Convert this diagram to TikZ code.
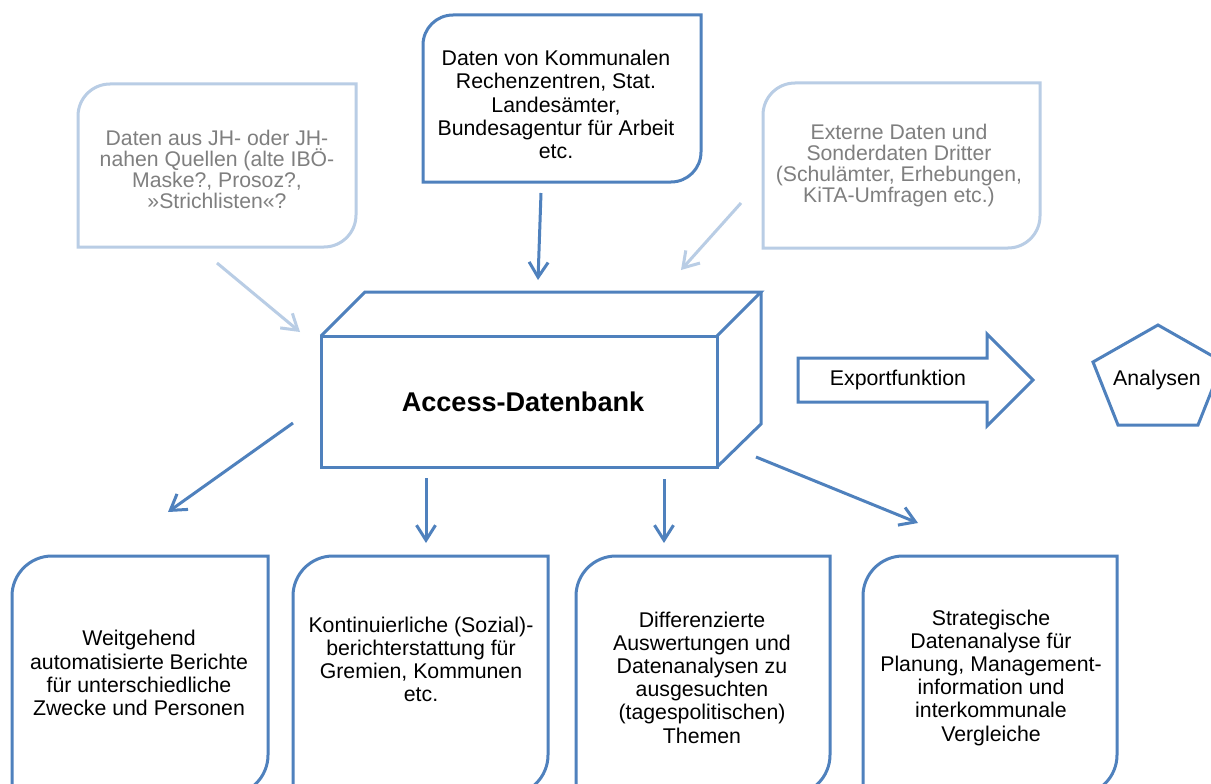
\documentclass[tikz,border=0pt]{standalone}
\usepackage{fontspec}
\setmainfont{Liberation Sans}
\usetikzlibrary{arrows.meta,calc}
\definecolor{mainblue}{RGB}{79,129,189}
\definecolor{lightblue}{RGB}{185,205,229}
\definecolor{greytext}{RGB}{127,127,127}
\newcommand{\dframe}[3]{%
  \draw[#1] ([yshift={-#3}]#2.north west) .. controls ([yshift={-0.448*#3}]#2.north west) and ([xshift={0.448*#3}]#2.north west) .. ([xshift={#3}]#2.north west)
    -- (#2.north east) -- ([yshift={#3}]#2.south east) .. controls ([yshift={0.448*#3}]#2.south east) and ([xshift={-0.448*#3}]#2.south east) .. ([xshift={-#3}]#2.south east)
    -- (#2.south west) -- cycle;}
\begin{document}
\begin{tikzpicture}[x=1pt,y=-1pt,
  frame/.style={draw=none, inner sep=0pt, outer sep=0pt},
  dark/.style={draw=mainblue, line width=3pt},
  light/.style={draw=lightblue, line width=3pt},
  txt/.style={align=center, inner sep=0pt, font=\fontsize{21.3pt}{23.2pt}\selectfont},
  ltxt/.style={align=center, inner sep=0pt, text=greytext, font=\fontsize{21.2pt}{21pt}\selectfont},
  darr/.style={draw=mainblue, line width=3pt, -{Straight Barb[length=15pt,width=19pt]}},
  larr/.style={draw=lightblue, line width=3pt, -{Straight Barb[length=15pt,width=19pt]}}]
\useasboundingbox (0,0) rectangle (1211,784);
\clip (0,0) rectangle (1211,784);
\fill[white] (0,0) rectangle (1211,784);

% top source boxes
\node[frame, minimum width=278pt, minimum height=163pt] (srcL) at (217,165.5) {};
\dframe{light}{srcL}{32pt}
\node[ltxt] (tL) at (217,169) {Daten aus JH- oder JH-\\nahen Quellen (alte IBÖ-\\Maske?, Prosoz?,\\»Strichlisten«?};

\node[frame, minimum width=278pt, minimum height=167pt] (srcC) at (562,98.5) {};
\dframe{dark}{srcC}{30pt}
\node[txt] (tC) at (556,104.5) {Daten von Kommunalen\\Rechenzentren, Stat.\\Landesämter,\\Bundesagentur für Arbeit\\etc.};

\node[frame, minimum width=277pt, minimum height=165pt] (srcR) at (901.5,165.5) {};
\dframe{light}{srcR}{32pt}
\node[ltxt] (tR) at (899,165.5) {Externe Daten und\\Sonderdaten Dritter\\(Schulämter, Erhebungen,\\KiTA-Umfragen etc.)};

% database cube
\node[frame, minimum width=396pt, minimum height=131pt, font=\fontsize{27.1pt}{30pt}\selectfont\bfseries] (db) at (519,401.5) {\hspace*{8pt}Access-Datenbank};
\draw[dark] (db.north west) rectangle (db.south east);
\draw[dark] (db.north west) -- ++(44,-44) coordinate (dbbl) -- ++(396,0) coordinate (dbbr) -- (db.north east);
\draw[dark] (dbbr) -- ++(0,132) -- (db.south east);

% export arrow and analyses
\node[txt] (exp) at (898,380) {Exportfunktion};
\draw[dark] (798,358) -- (987,358) -- (987,334) -- (1033,380) -- (987,426) -- (987,402) -- (798,402) -- cycle;
\node[txt] (ana) at (1157,380) {Analysen};
\draw[dark] (1158,325) -- (1223,362) -- (1198,425) -- (1118,425) -- (1093,362) -- cycle;

% bottom boxes
\node[frame, minimum width=256pt, minimum height=239pt] (b1) at (140,675.5) {};
\dframe{dark}{b1}{40pt}
\node[txt] (t1) at (139,673) {Weitgehend\\automatisierte Berichte\\für unterschiedliche\\Zwecke und Personen};

\node[frame, minimum width=255pt, minimum height=239pt] (b2) at (420.5,675.5) {};
\dframe{dark}{b2}{40pt}
\node[txt] (t2) at (421,659.5) {Kontinuierliche (Sozial)-\\berichterstattung für\\Gremien, Kommunen\\etc.};

\node[frame, minimum width=254pt, minimum height=239pt] (b3) at (703,675.5) {};
\dframe{dark}{b3}{40pt}
\node[txt] (t3) at (702,677.5) {Differenzierte\\Auswertungen und\\Datenanalysen zu\\ausgesuchten\\(tagespolitischen)\\Themen};

\node[frame, minimum width=254pt, minimum height=239pt] (b4) at (990,675.5) {};
\dframe{dark}{b4}{40pt}
\node[txt] (t4) at (991,677.5) {Strategische\\Datenanalyse für\\Planung, Management-\\information und\\interkommunale\\Vergleiche};

% connector end points
\coordinate (aL1) at (217,263);  \coordinate (aL2) at (300,332);
\coordinate (aC1) at (541,193);  \coordinate (aC2) at (538,280);
\coordinate (aR1) at (741,203);  \coordinate (aR2) at (681,270);
\coordinate (o11) at (293,423);  \coordinate (o12) at (168,512);
\coordinate (o21) at (426,478);  \coordinate (o22) at (426,543);
\coordinate (o31) at (664,479);  \coordinate (o32) at (664,543);
\coordinate (o41) at (756,457);  \coordinate (o42) at (918,523);

\draw[larr] (aL1) -- (aL2);
\draw[darr] (aC1) -- (aC2);
\draw[larr] (aR1) -- (aR2);
\draw[darr] (o11) -- (o12);
\draw[darr] (o21) -- (o22);
\draw[darr] (o31) -- (o32);
\draw[darr] (o41) -- (o42);
\end{tikzpicture}
\end{document}
